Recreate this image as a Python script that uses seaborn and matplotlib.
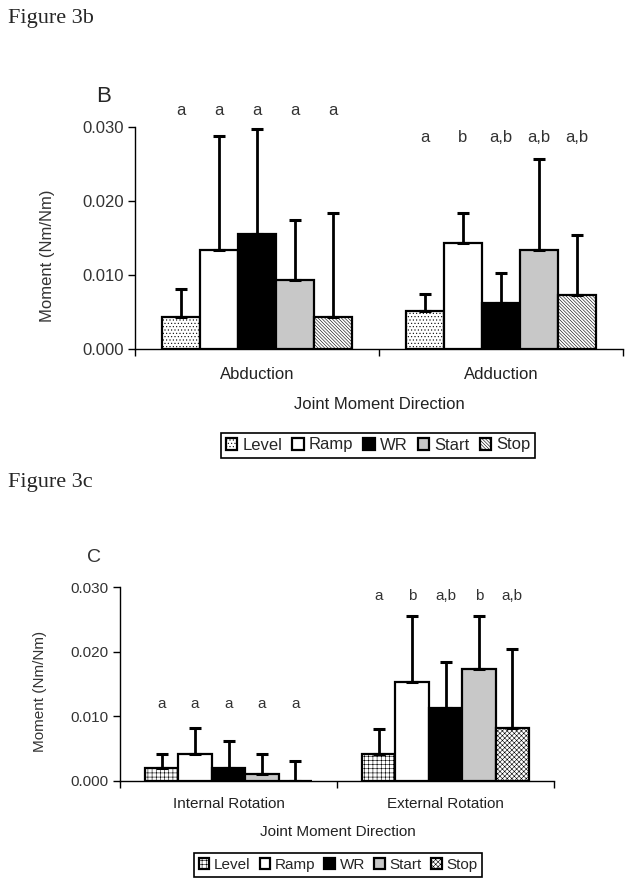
import pandas as pd
import matplotlib.pyplot as plt
import seaborn as sns

conditions = ['Level', 'Ramp', 'WR', 'Start', 'Stop']

# Figure 3b - ab/adduction
dirs_b = ['Abduction', 'Adduction']
mean_b_abd = [0.0043, 0.0134, 0.0155, 0.0093, 0.0043]
sd_b_abd = [0.0038, 0.0154, 0.0142, 0.0081, 0.0141]
mean_b_add = [0.0051, 0.0143, 0.0063, 0.0134, 0.0073]
sd_b_add = [0.0023, 0.0041, 0.0040, 0.0123, 0.0081]
letters_b_abd = ['a', 'a', 'a', 'a', 'a']
letters_b_add = ['a', 'b', 'a,b', 'a,b', 'a,b']

# Figure 3c - internal/external rotation
dirs_c = ['Internal Rotation', 'External Rotation']
mean_c_int = [0.0020, 0.0042, 0.0020, 0.0010, 0.0000]
sd_c_int = [0.0021, 0.0039, 0.0041, 0.0031, 0.0031]
mean_c_ext = [0.0041, 0.0153, 0.0113, 0.0173, 0.0082]
sd_c_ext = [0.0039, 0.0102, 0.0071, 0.0082, 0.0122]
letters_c_int = ['a', 'a', 'a', 'a', 'a']
letters_c_ext = ['a', 'b', 'a,b', 'b', 'a,b']

yticks = [0.000, 0.010, 0.020, 0.030]

sns.set_style('ticks')
plt.rcParams['font.family'] = ['Liberation Sans', 'DejaVu Sans']
plt.rcParams['hatch.linewidth'] = 0.4

colors = ['white', 'white', 'black', '#c8c8c8', 'white']


def make_df(dirs, means, sds):
    rows = []
    for d, m, s in zip(dirs, means, sds):
        for c, mv, sv in zip(conditions, m, s):
            rows.append({'Direction': d, 'Condition': c, 'Moment': mv, 'SD': sv})
    return pd.DataFrame(rows)


def panel(fig, rect, dirs, means, sds, letters, letter_y, hatches, fs, width, pad, tlen):
    ax = fig.add_axes(rect)
    df = make_df(dirs, means, sds)
    sns.barplot(data=df, x='Direction', y='Moment', hue='Condition', hue_order=conditions,
                palette=colors, width=width, errorbar=None, edgecolor='black',
                linewidth=1.6, saturation=1, legend=False, ax=ax)
    bars = list(ax.containers)
    for i, cont in enumerate(bars):
        for j, p in enumerate(cont.patches):
            p.set_hatch(hatches[i])
            xc = p.get_x() + p.get_width() / 2
            ax.errorbar(xc, means[j][i], yerr=[[0], [sds[j][i]]], fmt='none',
                        ecolor='black', elinewidth=2, capsize=4, capthick=2.2, zorder=1)
            ax.text(xc, letter_y[j], letters[j][i], ha='center', va='center',
                    fontsize=fs, color='#333333', clip_on=False)
    ax.set_xlim(-0.5, 1.5)
    ax.set_ylim(0, 0.030)
    ax.set_yticks(yticks)
    ax.set_yticklabels([f'{v:.3f}' for v in yticks], fontsize=fs, color='#333333')
    ax.set_xticks([0, 1])
    ax.set_xticklabels(dirs, fontsize=fs, color='#222222')
    ax.set_xticks([-0.5, 0.5, 1.5], minor=True)
    ax.tick_params(axis='x', which='major', length=0, pad=pad)
    ax.tick_params(axis='x', which='minor', length=tlen, width=1, direction='out', color='black')
    ax.tick_params(axis='y', length=tlen, width=1, direction='out', color='black', pad=3)
    ax.set_xlabel('')
    sns.despine(ax=ax)
    for s in ['left', 'bottom']:
        ax.spines[s].set_color('black')
        ax.spines[s].set_linewidth(1.0)
    return ax, [c.patches[0] for c in bars]


fig = plt.figure(figsize=(6.29, 8.84), dpi=100)
W, H = 629, 884

fig.text(8 / W, 1 - 23 / H, 'Figure 3b', fontsize=16, family=['Liberation Serif'], va='baseline')
fig.text(8 / W, 1 - 487 / H, 'Figure 3c', fontsize=16, family=['Liberation Serif'], va='baseline')

ax_b, handles_b = panel(fig, [135 / W, 1 - 349.3 / H, 488 / W, 222.6 / H], dirs_b,
                        [mean_b_abd, mean_b_add], [sd_b_abd, sd_b_add],
                        [letters_b_abd, letters_b_add], [0.0322, 0.0286],
                        ['.....', '', '', '', '\\' * 10], 12, 0.78, 13, 5)
ax_b.set_ylabel('Moment (Nm/Nm)', fontsize=12, color='#333333')
ax_b.yaxis.set_label_coords(-0.164, 0.42)
fig.text(104 / W, 1 - 97 / H, 'B', fontsize=16, ha='center', va='center')
fig.text(379 / W, 1 - 405 / H, 'Joint Moment Direction', fontsize=12, ha='center', va='center',
         color='#222222')

ax_c, handles_c = panel(fig, [120 / W, 1 - 780.7 / H, 434 / W, 193.4 / H], dirs_c,
                        [mean_c_int, mean_c_ext], [sd_c_int, sd_c_ext],
                        [letters_c_int, letters_c_ext], [0.0119, 0.0287],
                        ['++++', '', '', '', 'x' * 7], 11, 0.77, 12, 5)
ax_c.set_ylabel('Moment (Nm/Nm)', fontsize=11, color='#333333')
ax_c.yaxis.set_label_coords(-0.168, 0.46)
fig.text(94 / W, 1 - 557 / H, 'C', fontsize=14, ha='center', va='center', color='#333333')
fig.text(338 / W, 1 - 832 / H, 'Joint Moment Direction', fontsize=11, ha='center', va='center',
         color='#222222')

for handles, cx, cy, fs in [(handles_b, 378, 445, 12), (handles_c, 338, 865, 11)]:
    leg = fig.legend(handles, conditions, loc='center', bbox_to_anchor=(cx / W, 1 - cy / H),
                     ncol=5, fontsize=fs, frameon=True, fancybox=False, edgecolor='black',
                     framealpha=1, handlelength=0.7, handleheight=0.7, handletextpad=0.3,
                     columnspacing=0.6, borderpad=0.3, borderaxespad=0)
    leg.get_frame().set_linewidth(1.2)

fig.savefig('out.png', dpi=100)
plt.close(fig)
